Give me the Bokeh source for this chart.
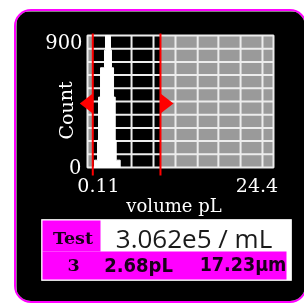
from bokeh.plotting import figure
from bokeh.models import Range1d
from bokeh.core.properties import value
from bokeh.embed import file_html
from bokeh.resources import INLINE

# ---------------- data ----------------
bin_edges = [1.02, 1.42, 1.55, 1.81, 2.33, 2.46, 3.11, 3.24, 3.51, 3.73, 3.86, 4.38]
bin_counts = [50, 185, 480, 680, 800, 900, 800, 680, 480, 185, 50]
x_min, x_max = 0.11, 24.4
y_min, y_max = 0, 900
gate_lo, gate_hi = 0.80, 9.64
x_grid = [2.98, 5.86, 8.73, 11.6, 14.5, 17.2, 20.1, 22.96]
y_grid = [90, 180, 270, 360, 450, 540, 630, 720, 810]
x_tick_labels = ["0.11", "24.4"]
y_tick_labels = ["900", "0"]
x_title = "volume pL"
y_title = "Count"
test_label = "Test"
test_no = "3"
concentration = "3.062e5 / mL"
mean_volume = "2.68pL"
mean_diameter = "17.23µm"

# ---------------- layout (canvas pixels) ----------------
W, H = 289, 290
FL, FT, FW, FH = 71, 24, 186, 132
MAGENTA = "#ff00ff"
GRID = "#ececec"
sx = (x_max - x_min) / FW
sy = (y_max - y_min) / FH

p = figure(width=W, height=H, x_range=Range1d(0, W), y_range=Range1d(H, 0),
           x_axis_type=None, y_axis_type=None, toolbar_location=None, output_backend="svg",
           min_border=0, background_fill_color="black", border_fill_color="black")
p.outline_line_color = None
p.styles = {"position": "fixed", "left": "16px", "top": "11px", "border-radius": "15px",
            "overflow": "hidden", "box-shadow": "0 0 0 2px #ff00ff"}
p.extra_x_ranges = {"vol": Range1d(x_min - FL * sx, x_max + (W - FL - FW) * sx)}
p.extra_y_ranges = {"cnt": Range1d(y_min - (H - FT - FH) * sy, y_max + FT * sy)}
D = dict(x_range_name="vol", y_range_name="cnt")

# gated-out (gray) regions
p.quad(left=[x_min, gate_hi], right=[gate_lo, x_max], bottom=[y_min, y_min], top=[y_max, y_max],
       fill_color="#9a9a9a", line_color=None, **D)

# grid
p.segment(x0=x_grid, x1=x_grid, y0=[y_min] * len(x_grid), y1=[y_max] * len(x_grid),
          line_color=GRID, line_width=2, **D)
p.segment(x0=[x_min] * len(y_grid), x1=[x_max] * len(y_grid), y0=y_grid, y1=y_grid,
          line_color=GRID, line_width=2, **D)
p.quad(left=[x_min], right=[x_max], bottom=[y_min], top=[y_max], fill_color=None,
       line_color=GRID, line_width=2, **D)

# histogram as one step outline built from the bins
hx, hy = [bin_edges[0]], [y_min]
for i, c in enumerate(bin_counts):
    hx += [bin_edges[i], bin_edges[i + 1]]
    hy += [c, c]
hx.append(bin_edges[-1])
hy.append(y_min)
p.patch(x=hx, y=hy, fill_color="#ffffff", fill_alpha=1.0, line_color="#ffffff", line_width=1,
        level="overlay", **D)

# gates
p.segment(x0=[gate_lo, gate_hi], x1=[gate_lo, gate_hi], y0=[y_max + 2 * sy] * 2,
          y1=[y_min - 8 * sy] * 2, line_color="#ff0000", line_width=2, level="overlay", **D)
tri_w = 13 * sx
tri_h = 10 * sy
tri_c = y_min + (FT + FH - 92) * sy
p.patches(xs=[[gate_lo, gate_lo, gate_lo - tri_w], [gate_hi, gate_hi, gate_hi + tri_w]],
          ys=[[tri_c - tri_h, tri_c + tri_h, tri_c]] * 2, fill_color="#ff0000", line_color=None,
          level="overlay", **D)

serif = "DejaVu Serif"


def lab(text, cx, cy, size, font=serif, color="white", style="normal", align="center", angle=0):
    p.text(x=[cx], y=[cy], text=[text], text_font=value(font), text_font_size=value(f"{size}px"),
           text_color=color, text_font_style=style, text_align=align, text_baseline="middle",
           angle=angle)


# axis texts
lab(y_tick_labels[0], 66, 29.5, 19.5, align="right")
lab(y_tick_labels[1], 65, 155, 19.5, align="right")
lab(x_tick_labels[0], 82, 173.5, 19)
lab(x_tick_labels[1], 240.5, 173.5, 19)
lab(x_title, 157.5, 194, 18)
lab(y_title, 49, 99, 19, angle=1.5708)

# result table
p.quad(left=[25], right=[275], top=[208], bottom=[269], fill_color="white", line_color="#dddddd",
       line_width=1)
p.quad(left=[26, 26], right=[84, 270], top=[209, 240], bottom=[240, 268], fill_color=MAGENTA,
       line_color=None)

lab(test_label, 56.5, 226.5, 17.5, color="#1a001a", style="bold")
lab(concentration, 177.5, 226.5, 26, font="Open Sans", color="#1a1a1a")
lab(test_no, 57, 253, 17.5, color="#1a001a", style="bold")
lab(mean_volume, 122, 253, 20, font="DejaVu Sans Condensed", color="#1a001a", style="bold")
lab(mean_diameter, 226.5, 253, 19.5, font="DejaVu Sans Condensed", color="#1a001a", style="bold")

open("out.html", "w").write(file_html(p, INLINE))
